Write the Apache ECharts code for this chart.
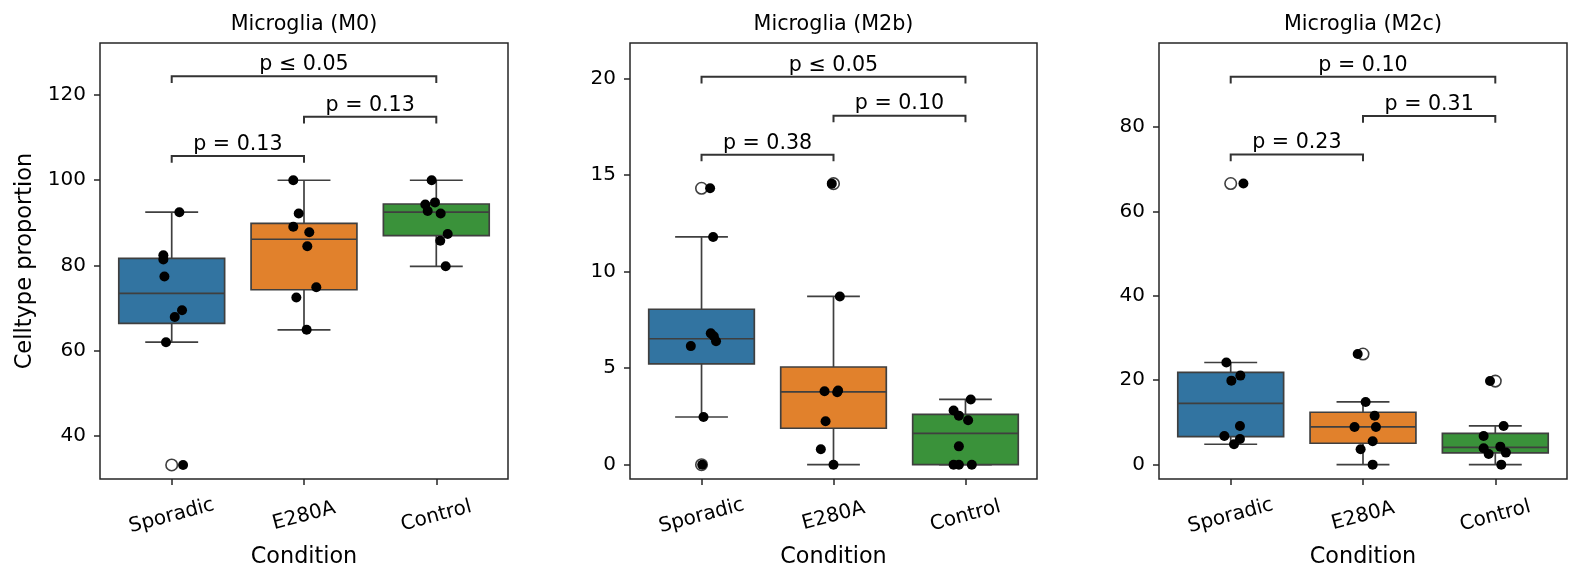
<!DOCTYPE html>
<html><head><meta charset="utf-8">
<script src="https://cdn.jsdelivr.net/npm/echarts@6/dist/echarts.min.js"></script>
<style>html,body{margin:0;padding:0;background:#fff}#c{width:1581px;height:583px}</style>
</head><body><div id="c"></div>
<script>
// ---------- data ----------
const categories = ['Sporadic', 'E280A', 'Control'];
const panelTitles = ['Microglia (M0)', 'Microglia (M2b)', 'Microglia (M2c)'];

// M0
const m0Sporadic = [92.5, 82.4, 81.4, 77.4, 69.5, 67.9, 62.0, 33.2];
const m0SporadicJitter = [0.058, -0.063, -0.063, -0.055, 0.078, 0.023, -0.043, 0.086];
const m0E280A = [100.0, 92.2, 89.1, 87.8, 84.5, 74.9, 72.5, 64.9];
const m0E280AJitter = [-0.081, -0.040, -0.081, 0.040, 0.025, 0.093, -0.058, 0.020];
const m0Control = [100.0, 94.8, 94.3, 92.8, 92.2, 87.4, 85.8, 79.8];
const m0ControlJitter = [-0.035, -0.010, -0.083, -0.065, 0.033, 0.086, 0.030, 0.071];
const m0Brackets = [[0, 2, 124.4], [1, 2, 114.9], [0, 1, 105.7]];
const m0BracketLabels = ['p ≤ 0.05', 'p = 0.13', 'p = 0.13'];
const m0YTicks = [40, 60, 80, 100, 120];
const m0YRange = [29.9, 132.2];

// M2b
const m2bSporadic = [14.31, 11.79, 6.80, 6.65, 6.39, 6.14, 2.47, 0];
const m2bSporadicJitter = [0.065, 0.088, 0.070, 0.093, 0.110, -0.081, 0.015, 0.005];
const m2bE280A = [14.55, 8.71, 3.84, 3.80, 3.75, 2.25, 0.80, 0];
const m2bE280AJitter = [-0.013, 0.048, 0.035, -0.068, 0.028, -0.060, -0.096, 0.0];
const m2bControl = [3.38, 2.81, 2.54, 2.30, 0.95, 0, 0, 0];
const m2bControlJitter = [0.040, -0.090, -0.050, 0.020, -0.050, -0.090, -0.050, 0.048];
const m2bBrackets = [[0, 2, 20.08], [1, 2, 18.07], [0, 1, 16.05]];
const m2bBracketLabels = ['p ≤ 0.05', 'p = 0.10', 'p = 0.38'];
const m2bYTicks = [0, 5, 10, 15, 20];
const m2bYRange = [-0.74, 21.83];

// M2c
const m2cSporadic = [66.6, 24.2, 21.1, 19.9, 9.17, 6.8, 6.09, 4.83];
const m2cSporadicJitter = [0.096, -0.033, 0.073, 0.005, 0.070, -0.048, 0.070, 0.025];
const m2cE280A = [26.2, 14.86, 11.6, 8.93, 8.93, 5.54, 3.65, 0];
const m2cE280AJitter = [-0.040, 0.020, 0.088, -0.064, 0.098, 0.073, -0.018, 0.073];
const m2cControl = [19.8, 9.17, 6.8, 4.27, 3.88, 2.85, 2.54, 0];
const m2cControlJitter = [-0.040, 0.063, -0.088, 0.038, -0.088, 0.080, -0.050, 0.045];
const m2cBrackets = [[0, 2, 91.9], [1, 2, 82.6], [0, 1, 73.5]];
const m2cBracketLabels = ['p = 0.10', 'p = 0.31', 'p = 0.23'];
const m2cYTicks = [0, 20, 40, 60, 80];
const m2cYRange = [-3.4, 99.9];

const xTicks = [0, 1, 2];
const xRange = [-0.542, 2.542];

// ---------- styling ----------
const FONT = 'DejaVu Sans';
const boxColors = ['#3274a1', '#e1812c', '#3a923a'];
const lineColor = '#3f3f3f';
const BOX_W = 0.8, CAP_W = 0.4;
const grids = [
  {left: 100, top: 43, width: 408, height: 436},
  {left: 630, top: 43, width: 407, height: 436},
  {left: 1159, top: 43, width: 408, height: 436}
];

const panels = [
  {values: [m0Sporadic, m0E280A, m0Control], jitter: [m0SporadicJitter, m0E280AJitter, m0ControlJitter],
   brackets: m0Brackets, labels: m0BracketLabels, yTicks: m0YTicks, yRange: m0YRange},
  {values: [m2bSporadic, m2bE280A, m2bControl], jitter: [m2bSporadicJitter, m2bE280AJitter, m2bControlJitter],
   brackets: m2bBrackets, labels: m2bBracketLabels, yTicks: m2bYTicks, yRange: m2bYRange},
  {values: [m2cSporadic, m2cE280A, m2cControl], jitter: [m2cSporadicJitter, m2cE280AJitter, m2cControlJitter],
   brackets: m2cBrackets, labels: m2cBracketLabels, yTicks: m2cYTicks, yRange: m2cYRange}
];

// ---------- stats (matplotlib/seaborn convention) ----------
function quantile(s, p) {
  const h = (s.length - 1) * p, lo = Math.floor(h), hi = Math.ceil(h);
  return s[lo] + (h - lo) * (s[hi] - s[lo]);
}
function boxStats(vals) {
  const s = vals.slice().sort((a, b) => a - b);
  const q1 = quantile(s, 0.25), med = quantile(s, 0.5), q3 = quantile(s, 0.75);
  const iqr = q3 - q1, lf = q1 - 1.5 * iqr, hf = q3 + 1.5 * iqr;
  const inside = s.filter(v => v >= lf && v <= hf);
  return {low: inside[0], q1, med, q3, high: inside[inside.length - 1], out: s.filter(v => v < lf || v > hf)};
}

function renderBox(params, api) {
  const c = api.value(0);
  const pLow = api.coord([c, api.value(1)]);
  const pQ1 = api.coord([c, api.value(2)]);
  const pMed = api.coord([c, api.value(3)]);
  const pQ3 = api.coord([c, api.value(4)]);
  const pHigh = api.coord([c, api.value(5)]);
  const hb = api.size([BOX_W, 0])[0] / 2;
  const hc = api.size([CAP_W, 0])[0] / 2;
  const x = pMed[0];
  const ls = {stroke: lineColor, lineWidth: 1.7};
  return {type: 'group', children: [
    {type: 'line', shape: {x1: x, y1: pQ1[1], x2: x, y2: pLow[1]}, style: ls},
    {type: 'line', shape: {x1: x, y1: pQ3[1], x2: x, y2: pHigh[1]}, style: ls},
    {type: 'line', shape: {x1: x - hc, y1: pLow[1], x2: x + hc, y2: pLow[1]}, style: ls},
    {type: 'line', shape: {x1: x - hc, y1: pHigh[1], x2: x + hc, y2: pHigh[1]}, style: ls},
    {type: 'rect', shape: {x: x - hb, y: pQ3[1], width: 2 * hb, height: pQ1[1] - pQ3[1]},
     style: {fill: boxColors[Math.round(c)], stroke: lineColor, lineWidth: 1.7}},
    {type: 'line', shape: {x1: x - hb, y1: pMed[1], x2: x + hb, y2: pMed[1]}, style: ls}
  ]};
}

function makeBracketRenderer(labels) {
  return function (params, api) {
    const a = api.coord([api.value(0), api.value(2)]);
    const b = api.coord([api.value(1), api.value(2)]);
    const tip = 6.7;
    return {type: 'group', children: [
      {type: 'polyline', shape: {points: [[a[0], a[1] + tip], [a[0], a[1]], [b[0], b[1]], [b[0], b[1] + tip]]},
       style: {stroke: '#333333', lineWidth: 2, fill: null}},
      {type: 'text', style: {text: labels[params.dataIndex], x: (a[0] + b[0]) / 2, y: a[1] - 1,
        align: 'center', verticalAlign: 'bottom', fontSize: 20.6, fontFamily: FONT, fill: '#000'}}
    ]};
  };
}

const option = {
  animation: false,
  backgroundColor: '#fff',
  textStyle: {fontFamily: FONT},
  title: panelTitles.map((t, i) => ({
    text: t, left: grids[i].left + grids[i].width / 2, top: 14, textAlign: 'center', padding: 0,
    textStyle: {fontSize: 20.7, fontWeight: 'normal', color: '#000', fontFamily: FONT}
  })),
  grid: grids.map(g => Object.assign({show: true, borderColor: '#262626', borderWidth: 1.5,
    backgroundColor: 'transparent', containLabel: false}, g)),
  xAxis: panels.map((p, i) => ({
    type: 'value', gridIndex: i, min: xRange[0], max: xRange[1],
    name: 'Condition', nameLocation: 'middle', nameGap: 67,
    nameTextStyle: {fontSize: 22.3, color: '#000', fontFamily: FONT},
    axisLine: {show: false, onZero: false}, splitLine: {show: false},
    axisTick: {show: true, length: 6, customValues: xTicks, lineStyle: {color: '#262626', width: 1.5}},
    axisLabel: {customValues: xTicks, formatter: v => categories[Math.round(v)], rotate: 15,
      align: 'center', verticalAlign: 'middle', margin: 37, fontSize: 20, color: '#000', fontFamily: FONT}
  })),
  yAxis: panels.map((p, i) => ({
    type: 'value', gridIndex: i, min: p.yRange[0], max: p.yRange[1],
    name: i === 0 ? 'Celltype proportion' : '', nameLocation: 'middle', nameGap: 63,
    nameTextStyle: {fontSize: 22.5, color: '#000', fontFamily: FONT},
    axisLine: {show: false, onZero: false}, splitLine: {show: false},
    axisTick: {show: true, length: 6, customValues: p.yTicks, lineStyle: {color: '#262626', width: 1.5}},
    axisLabel: {customValues: p.yTicks, margin: 14, fontSize: 20, color: '#000', fontFamily: FONT}
  })),
  series: []
};

panels.forEach((p, i) => {
  const stats = p.values.map(boxStats);
  option.series.push({
    type: 'custom', xAxisIndex: i, yAxisIndex: i, z: 2, silent: true,
    renderItem: renderBox,
    encode: {x: 0, y: [1, 2, 3, 4, 5]},
    data: stats.map((s, c) => [c, s.low, s.q1, s.med, s.q3, s.high])
  });
  const fliers = [];
  stats.forEach((s, c) => s.out.forEach(v => fliers.push([c, v])));
  option.series.push({
    type: 'scatter', xAxisIndex: i, yAxisIndex: i, z: 3, silent: true,
    symbol: 'circle', symbolSize: 11.5,
    itemStyle: {color: 'rgba(255,255,255,0)', borderColor: lineColor, borderWidth: 1.6, opacity: 1},
    data: fliers
  });
  const pts = [];
  p.values.forEach((arr, c) => arr.forEach((v, k) => pts.push([c + p.jitter[c][k], v])));
  option.series.push({
    type: 'scatter', xAxisIndex: i, yAxisIndex: i, z: 4, silent: true,
    symbol: 'circle', symbolSize: 10, itemStyle: {color: '#000', opacity: 1},
    data: pts
  });
  option.series.push({
    type: 'custom', xAxisIndex: i, yAxisIndex: i, z: 5, silent: true,
    renderItem: makeBracketRenderer(p.labels),
    encode: {x: [0, 1], y: 2},
    data: p.brackets
  });
});

const chart = echarts.init(document.getElementById('c'), null, {renderer: 'canvas'});
chart.setOption(option);
</script>
</body></html>
